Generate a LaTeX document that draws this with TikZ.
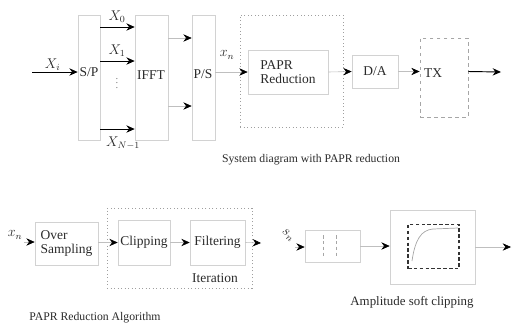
\documentclass[tikz,border=0pt]{standalone}
\usepackage{fontspec}
\setmainfont{Liberation Serif}
\usetikzlibrary{arrows.meta,positioning,calc}
\definecolor{boxgray}{HTML}{D2D2D2}
\definecolor{inkgray}{HTML}{2A2A2A}
\tikzset{
  fbox/.style ={rectangle, draw=boxgray, line width=0.5pt, inner sep=1pt,
                align=left, text=inkgray, font=\fontsize{11.5}{12.5}\selectfont},
  dbox/.style ={rectangle, draw=gray!75, line width=0.6pt,
                dash pattern=on 0.8pt off 2.2pt},
  txt/.style  ={inner sep=0pt, text=inkgray, font=\fontsize{11.5}{12.5}\selectfont},
  captxt/.style ={inner sep=0pt, text=inkgray, font=\fontsize{10}{12}\selectfont},
  arr/.style  ={-{Stealth[length=2.5mm,width=2.2mm,color=black]}, draw=gray!50, line width=0.5pt},
  barr/.style ={-{Stealth[length=2.5mm,width=2.2mm]}, draw=black, line width=0.8pt}
}
\begin{document}
\begin{tikzpicture}[x=0.03cm,y=-0.03cm]
\useasboundingbox (0,0) rectangle (513,327);
% system diagram
\node[fbox, minimum width=0.66cm, minimum height=3.75cm] (sp) at (89,77.5) {};
\node[txt] (sptxt) at (89,72) {S/P};
\node[fbox, minimum width=0.99cm, minimum height=3.75cm] (ifft) at (151.5,77.5) {};
\node[txt] (iffttxt) at (151,75) {IFFT};
\node[fbox, minimum width=0.69cm, minimum height=3.75cm] (ps) at (203.5,77.5) {};
\node[txt] (pstxt) at (203,74) {P/S};
\node[dbox, minimum width=3.09cm, minimum height=3.36cm] (red) at (291.5,71) {};
\node[fbox, minimum width=2.4cm, minimum height=1.32cm] (papr) at (288,72) {PAPR\\Reduction};
\node[fbox, minimum width=1.38cm, minimum height=0.99cm] (da) at (375,71.5) {D/A};
\node[rectangle, draw=gray!70, dashed, line width=0.6pt,
      minimum width=1.44cm, minimum height=2.37cm] (tx) at (444,77.5) {};
\node[txt] (txtxt) at (433,73) {TX};
\coordinate (in) at (32,72);
\coordinate (out) at (501,72);
\coordinate (y0) at (0,27);
\coordinate (y1) at (0,61);
\coordinate (yn) at (0,129);
\coordinate (ya) at (0,38);
\coordinate (yb) at (0,106);
\draw[barr] (in) -- (sp.west |- in);
\node[txt, above=1pt of $(in)!0.45!(sp.west |- in)$] (xi) {$X_i$};
\foreach \y in {y0,y1,yn}{\draw[barr] (sp.east |- \y) -- (ifft.west |- \y);}
\node[txt] (x0) at (117,17) {$X_0$};
\node[txt] (x1) at (117,51) {$X_1$};
\node[txt] (xn) at (123,143) {$X_{N-1}$};
\node[txt, text=gray, font=\fontsize{9}{9}\selectfont] (dots) at (117,80) {$\vdots$};
\foreach \y in {ya,yb}{\draw[arr] (ifft.east |- \y) -- (ps.west |- \y);}
\draw[arr] (ps.east |- papr.west) -- (papr.west);
\node[txt] (xsig) at (227,55) {$x_n$};
\draw[arr] (papr.east) -- (da.west);
\draw[arr] (da.east) -- (tx.west |- da.east);
\draw[barr] (tx.east |- da.east) -- (out);
\node[captxt] (cap1) at (311,160) {System diagram with PAPR reduction};
% PAPR reduction algorithm
\node[fbox, minimum width=1.89cm, minimum height=1.29cm] (os) at (66.5,243.5) {Over\\Sampling};
\node[dbox, minimum width=4.35cm, minimum height=2.4cm] (iter) at (179.5,248) {};
\node[fbox, minimum width=1.56cm, minimum height=1.35cm] (clip) at (144,242.5) {Clipping};
\node[fbox, minimum width=1.65cm, minimum height=1.35cm] (filt) at (217.5,242.5) {Filtering};
\node[txt] (itertxt) at (215,278) {Iteration};
\node[txt] (xs) at (15,235) {$x_n$};
\coordinate (ins) at (24,242);
\coordinate (mid) at (261,243);
\draw[arr] (ins) -- (os.west |- ins);
\draw[arr] (os.east |- clip.west) -- (clip.west);
\draw[arr] (clip.east) -- (filt.west);
\draw[arr] (filt.east) -- (mid);
\node[captxt] (cap2) at (95,318) {PAPR Reduction Algorithm};
% sampler and soft clipping
\node[fbox, minimum width=1.65cm, minimum height=0.96cm] (smp) at (332.5,246) {};
\draw[gray!70, densely dashed] (323,235) -- (323,258) (336,235) -- (336,258);
\node[txt, rotate=-40] (ss) at (288,235) {$s_n$};
\coordinate (ss0) at (295,247);
\draw[arr] (ss0) -- (smp.west |- ss0);
\node[fbox, minimum width=2.55cm, minimum height=2.22cm] (soft) at (432.5,247) {};
\node[rectangle, draw=black!80, densely dashed, line width=0.9pt,
      minimum width=1.53cm, minimum height=1.32cm] (plot) at (433.5,246.5) {};
\draw[gray!70, line width=0.6pt] (412,261) .. controls (415,240) and (421,230) .. (433,229) -- (458,228);
\draw[arr] (smp.east) -- (soft.west |- smp.east);
\coordinate (out2) at (511,247);
\draw[arr] (soft.east |- out2) -- (out2);
\node[captxt, font=\fontsize{11}{12}\selectfont] (cap3) at (412,302) {Amplitude soft clipping};
\end{tikzpicture}
\end{document}
